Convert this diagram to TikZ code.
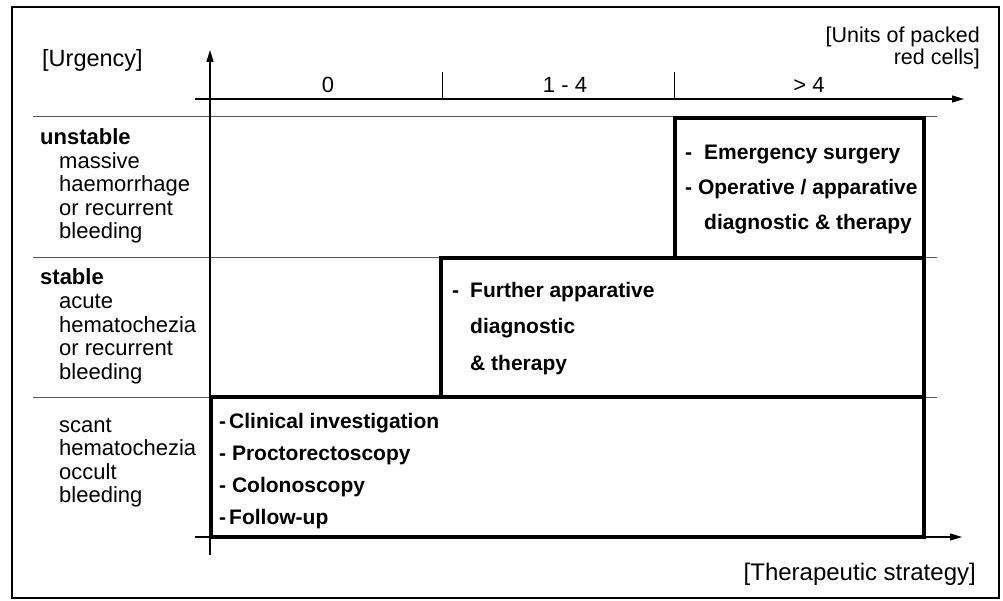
\documentclass[tikz,border=0pt]{standalone}
\usepackage{fontspec}
\setmainfont{Liberation Sans}
\usetikzlibrary{arrows.meta}
\tikzset{
  axis/.style={line width=1.3pt,-{Triangle[length=12pt,width=7pt]}},
  sep/.style={line width=1pt,draw=black!65},
  zone/.style={line width=4pt,line join=miter},
  lab/.style={anchor=base west,inner sep=0pt,font=\fontsize{22}{24}\selectfont},
  blab/.style={anchor=base west,inner sep=0pt,font=\fontsize{21}{24}\selectfont\bfseries},
  ax/.style={anchor=base,inner sep=0pt,font=\fontsize{22}{24}\selectfont},
}
\begin{document}
\begin{tikzpicture}[x=1pt,y=-1pt]
\useasboundingbox (0,0) rectangle (1003,601);
\draw[line width=1.5pt] (12,7) rectangle (999,598);
% separators
\draw[sep] (33,117) -- (937,117);
\draw[sep] (33,258) -- (937,258);
\draw[sep] (33,397) -- (937,397);
% zones
\draw[zone] (211,397) rectangle (924,537);
\draw[zone] (441,258) rectangle (924,397);
\draw[zone] (675,118) rectangle (924,258);
% axes
\coordinate (vb) at (210,555);
\coordinate (vt) at (210,50);
\coordinate (ts) at (195,99);
\coordinate (te) at (964,99);
\coordinate (bs) at (195,537);
\coordinate (be) at (962,537);
\draw[axis] (vb) -- (vt);
\draw[axis] (ts) -- (te);
\draw[axis] (bs) -- (be);
\coordinate (t1a) at (442,72); \coordinate (t1b) at (442,99);
\coordinate (t2a) at (674,72); \coordinate (t2b) at (674,99);
\draw[line width=1pt] (t1a) -- (t1b);
\draw[line width=1pt] (t2a) -- (t2b);
% axis labels
\node[ax] (c0) at (328,93) {0};
\node[ax] (c1) at (565,93) {1 - 4};
\node[ax] (c2) at (809,93) {> 4};
\node[anchor=base west,inner sep=0pt,font=\fontsize{23.5}{24}\selectfont] (urg) at (42,67) {[Urgency]};
\node[anchor=base east,inner sep=0pt,font=\fontsize{21.5}{24}\selectfont] (units1) at (980,43) {[Units of packed};
\node[anchor=base east,inner sep=0pt,font=\fontsize{21.5}{24}\selectfont] (units2) at (980,65) {red cells]};
\node[anchor=base east,inner sep=0pt,font=\fontsize{24}{24}\selectfont] (ther) at (976,580) {[Therapeutic strategy]};
% left labels
\node[anchor=base west,inner sep=0pt,font=\fontsize{22}{24}\selectfont\bfseries] (u0) at (40,145) {unstable};
\node[lab] (u1) at (59,168.5) {massive};
\node[lab] (u2) at (59,192) {haemorrhage};
\node[lab] (u3) at (59,215.5) {or recurrent};
\node[lab] (u4) at (59,239) {bleeding};
\node[anchor=base west,inner sep=0pt,font=\fontsize{22}{24}\selectfont\bfseries] (s0) at (40,285) {stable};
\node[lab] (s1) at (59,308.5) {acute};
\node[lab] (s2) at (59,332) {hematochezia};
\node[lab] (s3) at (59,355.5) {or recurrent};
\node[lab] (s4) at (59,379) {bleeding};
\node[lab] (o1) at (59,432) {scant};
\node[lab] (o2) at (59,455.5) {hematochezia};
\node[lab] (o3) at (59,479) {occult};
\node[lab] (o4) at (59,502.5) {bleeding};
% box 1
\node[blab] (e1) at (685,160) {-\hspace{12pt}Emergency surgery};
\node[blab] (e2) at (685,195) {- Operative / apparative};
\node[blab] (e3) at (704,230) {diagnostic \& therapy};
% box 2
\node[blab] (f1) at (452,298) {-\hspace{11pt}Further apparative};
\node[blab] (f2) at (470,334) {diagnostic};
\node[blab] (f3) at (470,370) {\& therapy};
% box 3
\node[blab] (g1) at (219,428) {-\hspace{3pt}Clinical investigation};
\node[blab] (g2) at (219,460) {- Proctorectoscopy};
\node[blab] (g3) at (219,492) {- Colonoscopy};
\node[blab] (g4) at (219,524) {-\hspace{3pt}Follow-up};
\end{tikzpicture}
\end{document}
